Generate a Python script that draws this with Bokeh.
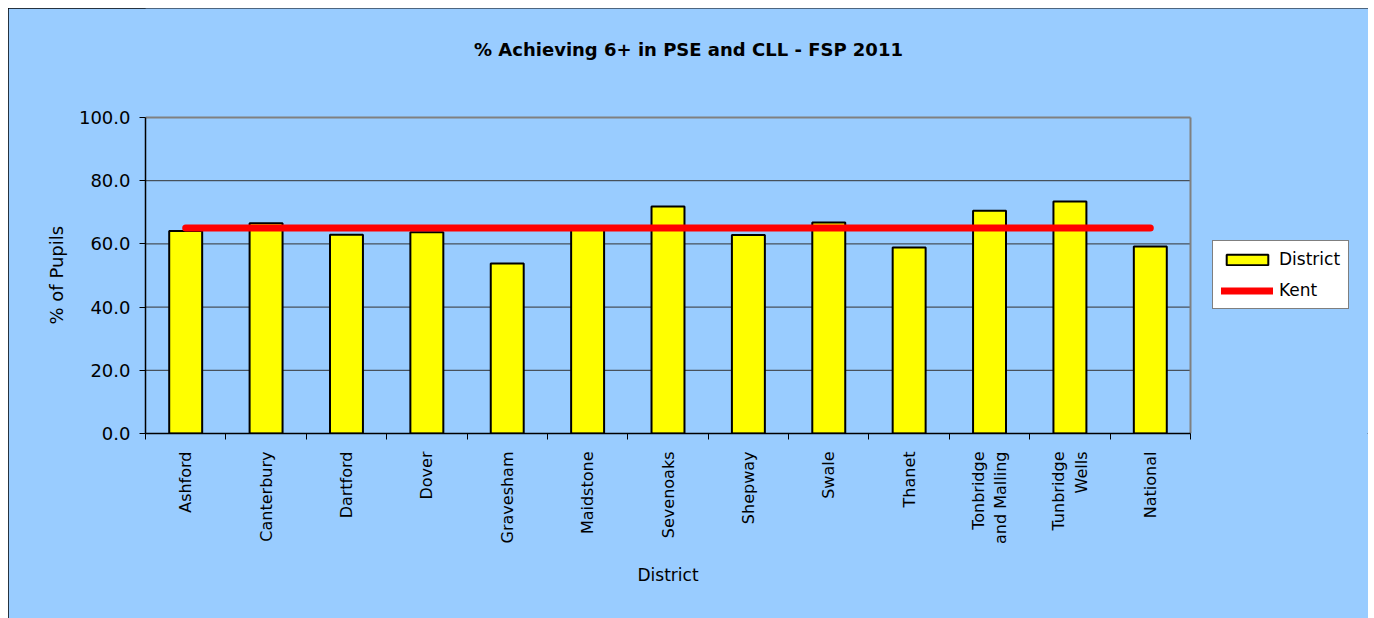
import math
from bokeh.plotting import figure
from bokeh.models import (Range1d, FixedTicker, Legend, LegendItem, ColumnDataSource,
                          LinearAxis, Label, Title)
from bokeh.embed import file_html
from bokeh.resources import INLINE

title_text = "% Achieving 6+ in PSE and CLL - FSP 2011"
x_label = "District"
y_label = "% of Pupils"
districts = ["Ashford", "Canterbury", "Dartford", "Dover", "Gravesham", "Maidstone",
             "Sevenoaks", "Shepway", "Swale", "Thanet", "Tonbridge\nand Malling",
             "Tunbridge\nWells", "National"]
district_values = [64.1, 66.5, 62.9, 63.7, 53.8, 64.9, 71.8, 62.8, 66.8, 58.9, 70.5, 73.4, 59.2]
kent_values = [65.0, 65.0, 65.0, 65.0, 65.0, 65.0, 65.0, 65.0, 65.0, 65.0, 65.0, 65.0, 65.0]
y_ticks = [0, 20, 40, 60, 80, 100]

FONT = "DejaVu Sans"
BG = "#99CCFF"

n = len(districts)
y_max = y_ticks[-1]
centers = [i + 0.5 for i in range(n)]
src = ColumnDataSource(dict(x=centers, district=district_values, kent=kent_values))
grid_src = ColumnDataSource(dict(y=y_ticks[1:-1], x0=[0] * (len(y_ticks) - 2),
                                 x1=[n] * (len(y_ticks) - 2)))

# layout geometry (pixels)
W, H = 1360, 610
LEFT, BOTTOM = 137, 185
PLOT_W, PLOT_H = 1045, 316          # visible plot area
FRAME_W, FRAME_H = W - LEFT, H - BOTTOM
x_end = n * FRAME_W / PLOT_W
y_end = y_max * FRAME_H / PLOT_H

p = figure(width=W, height=H, x_range=Range1d(0, x_end), y_range=Range1d(0, y_end),
           output_backend="svg", toolbar_location=None, x_axis_location=None,
           y_axis_location=None,
           min_border_left=LEFT, min_border_right=0, min_border_top=0,
           min_border_bottom=BOTTOM)
p.margin = (8, 0, 0, 8)
p.styles = {"outline": "1px solid black", "outline-offset": "-1px",
            "background-color": BG}
p.background_fill_color = BG
p.border_fill_color = BG
p.outline_line_color = None
p.xgrid.visible = False
p.ygrid.visible = False

# title
px_x = PLOT_W / n
px_y = PLOT_H / y_max
p.add_layout(Label(x=543 / px_x, y=(433 - 49) / px_y, text=title_text,
                   text_align="center", text_baseline="middle", text_font=FONT,
                   text_font_size="18px", text_font_style="bold", text_color="black"))

# y axis
yax = LinearAxis(ticker=FixedTicker(ticks=y_ticks), bounds=(0, y_max))
yax.major_label_overrides = {t: f"{t:.1f}" for t in y_ticks}
yax.major_label_text_font = FONT
yax.major_label_text_font_size = "18px"
yax.major_label_text_color = "black"
yax.major_label_standoff = 9
yax.major_tick_out = 6
yax.major_tick_in = 0
yax.major_tick_line_color = "black"
yax.minor_tick_line_color = None
yax.axis_line_color = "black"
yax.axis_line_width = 1.5
p.add_layout(yax, "left")
p.add_layout(Title(text=y_label, align="left", offset=109, standoff=18,
                   text_font=FONT, text_font_size="18px", text_font_style="normal",
                   text_color="black"), "left")

# x axis: labels at category centers, ticks at category boundaries
xax = LinearAxis(ticker=FixedTicker(ticks=centers, minor_ticks=list(range(n + 1))),
                 bounds=(0, n))
xax.major_label_overrides = {c: d for c, d in zip(centers, districts)}
xax.major_label_orientation = math.pi / 2
xax.major_label_text_font = FONT
xax.major_label_text_font_size = "16px"
xax.major_label_text_color = "black"
xax.major_label_standoff = 12
xax.major_tick_line_color = None
xax.major_tick_out = 0
xax.major_tick_in = 0
xax.minor_tick_line_color = "black"
xax.minor_tick_out = 6
xax.minor_tick_in = 0
xax.axis_line_color = "black"
xax.axis_line_width = 1.5
p.add_layout(xax, "below")
p.add_layout(Title(text=x_label, align="left", offset=492, standoff=36,
                   vertical_align="top", text_font=FONT, text_font_size="17px",
                   text_font_style="normal", text_color="black"), "below")

# grid lines and plot-area border (top and right)
p.segment(x0="x0", y0="y", x1="x1", y1="y", source=grid_src,
          line_color="#333333", line_width=1)
p.segment(x0=[0, n], y0=[y_max, 0], x1=[n, n], y1=[y_max, y_max],
          line_color="#808080", line_width=2)

bars = p.vbar(x="x", top="district", width=0.41, bottom=0, source=src,
              fill_color="#FFFF00", line_color="black", line_width=2)
line = p.line(x="x", y="kent", source=src, line_color="#FF0000", line_width=7,
              line_cap="round")

legend = Legend(items=[LegendItem(label="District", renderers=[bars]),
                       LegendItem(label="Kent", renderers=[line])],
                location=(1067, 124))
legend.background_fill_color = "white"
legend.background_fill_alpha = 1
legend.border_line_color = "black"
legend.border_line_width = 1
legend.label_text_font = FONT
legend.label_text_font_size = "17px"
legend.label_text_color = "black"
legend.glyph_width = 52
legend.glyph_height = 13
legend.label_standoff = 6
legend.spacing = 11
legend.padding = 8
legend.margin = 0
p.add_layout(legend, "center")

open("out.html", "w").write(file_html(p, INLINE))
